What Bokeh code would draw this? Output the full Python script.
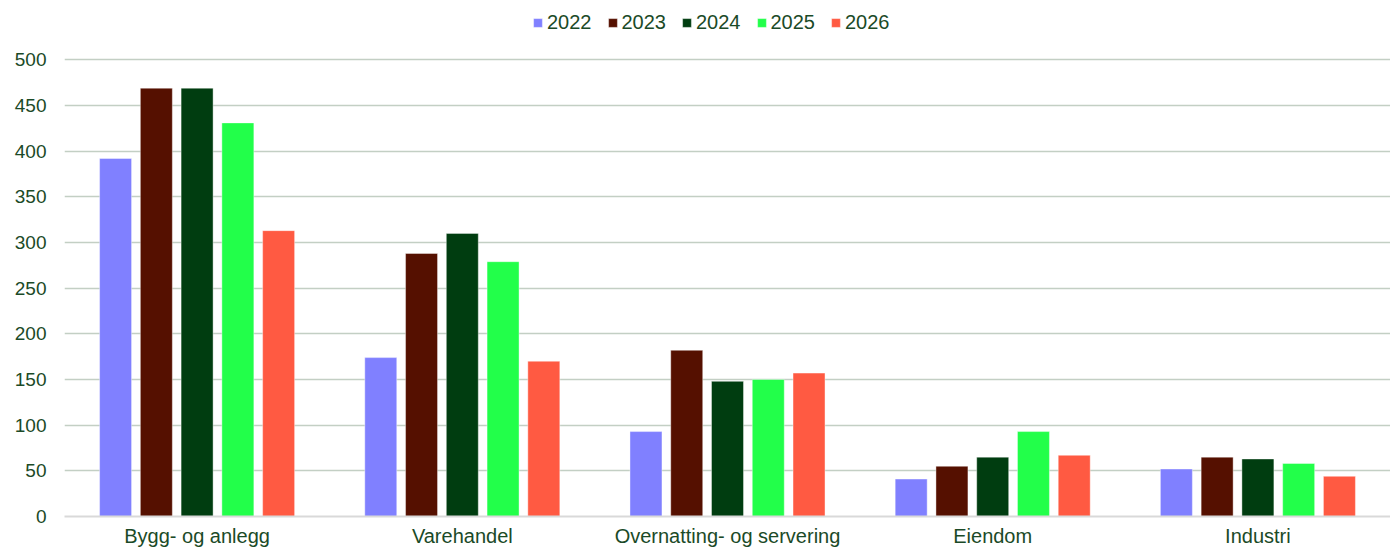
from bokeh.plotting import figure
from bokeh.models import ColumnDataSource, FactorRange, Range1d, FixedTicker, Legend, LegendItem
from bokeh.transform import dodge
from bokeh.embed import file_html
from bokeh.resources import INLINE

categories = ["Bygg- og anlegg", "Varehandel", "Overnatting- og servering", "Eiendom", "Industri"]
years = ["2022", "2023", "2024", "2025", "2026"]
v2022 = [392, 174, 93, 41, 52]
v2023 = [469, 288, 182, 55, 65]
v2024 = [469, 310, 148, 65, 63]
v2025 = [431, 279, 150, 93, 58]
v2026 = [313, 170, 157, 67, 44]
yticks = [0, 50, 100, 150, 200, 250, 300, 350, 400, 450, 500]

colors = ["#8080FF", "#551000", "#003D10", "#22FF4A", "#FF5A42"]
text_color = "#1B4A27"
font = "Liberation Sans"

src = ColumnDataSource(dict(cat=categories, v2022=v2022, v2023=v2023, v2024=v2024,
                            v2025=v2025, v2026=v2026))

p = figure(width=1390, height=549, x_range=FactorRange(*categories, range_padding=0),
           y_range=Range1d(0, 565), output_backend="svg", toolbar_location=None,
           min_border_top=0, min_border_right=0, min_border_left=64, min_border_bottom=0)
p.outline_line_color = None
p.background_fill_color = "white"
p.border_fill_color = "white"

step = 0.1537
width = 0.1206
cols = ["v2022", "v2023", "v2024", "v2025", "v2026"]
items = []
for i, (c, yr, col) in enumerate(zip(cols, years, colors)):
    r = p.vbar(x=dodge("cat", (i - 2) * step, range=p.x_range), top=c, width=width,
               source=src, fill_color=col, line_color="white", line_alpha=0.4, line_width=1)
    items.append(LegendItem(label=yr, renderers=[r]))

p.yaxis.ticker = FixedTicker(ticks=yticks)
p.yaxis.axis_line_color = None
p.yaxis.major_tick_line_color = None
p.yaxis.minor_tick_line_color = None
p.yaxis.major_label_standoff = 12
p.yaxis.major_label_text_font = font
p.yaxis.major_label_text_font_size = "19px"
p.yaxis.major_label_text_color = text_color

p.xaxis.axis_line_color = "#D9D9D9"
p.xaxis.axis_line_width = 2
p.xaxis.major_tick_line_color = None
p.xaxis.minor_tick_line_color = None
p.xaxis.major_label_standoff = 2
p.xaxis.major_label_text_font = font
p.xaxis.major_label_text_font_size = "20px"
p.xaxis.major_label_text_color = text_color

p.xgrid.grid_line_color = None
p.ygrid.ticker = FixedTicker(ticks=yticks[1:])
p.ygrid.grid_line_color = "#C3CFC4"
p.ygrid.grid_line_width = 1.5

legend = Legend(items=items, orientation="horizontal", location=(468, 482),
                glyph_width=11, glyph_height=11, label_standoff=4, spacing=15,
                padding=0, margin=0, border_line_color=None, background_fill_alpha=0,
                label_text_font=font, label_text_font_size="20px", label_text_color=text_color)
p.add_layout(legend, "center")

open("out.html", "w").write(file_html(p, INLINE))
